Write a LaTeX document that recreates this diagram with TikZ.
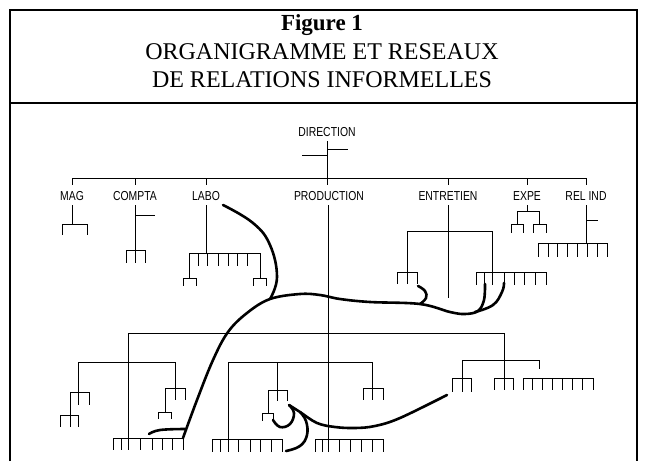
\documentclass[tikz,border=0pt]{standalone}
\usepackage{fontspec}
\setmainfont{Liberation Serif}
\newfontfamily\cond[FakeStretch=0.8]{Liberation Sans}
\newcommand{\orgcomb}[5]{%
  \draw[orgline] (#3,#1) -- (#4,#1);
  \foreach \t in {#5} \draw[orgline] (\t,#1) -- ++(0,#2);
}
\begin{document}
\begin{tikzpicture}[x=1pt,y=-1pt]
\tikzset{
  orgline/.style={line width=0.9pt},
  rel/.style={line width=2.6pt, line cap=round},
  dept/.style={font=\cond\fontsize{13}{13}\selectfont, inner sep=0pt},
}
\useasboundingbox (0,0) rectangle (645,461);
% frame
\draw[line width=1.1pt] (10,461) -- (10,10) -- (637,10) -- (637,461);
\draw[line width=1.4pt] (10,103) -- (637,103);
% title
\node[font=\bfseries\fontsize{23}{23}\selectfont] (fig) at (322,25) {Figure 1};
\node[font=\fontsize{24}{24}\selectfont] (t1) at (322,52) {ORGANIGRAMME ET RESEAUX};
\node[font=\fontsize{24}{24}\selectfont] (t2) at (322,80) {DE RELATIONS INFORMELLES};
% direction
\node[dept] (dir) at (327,132) {DIRECTION};
\draw[orgline] (327,141) -- (327,185);
\draw[orgline] (302,155) -- (327,155);
\draw[orgline] (327,149) -- (348,149);
% main bar
\draw[orgline] (72,178) -- (586,178);
\foreach \x in {72,135,206,448,527,586} \draw[orgline] (\x,178) -- (\x,185);
\node[dept] (mag) at (72,196) {MAG};
\node[dept] (compta) at (135,196) {COMPTA};
\node[dept] (labo) at (206,196) {LABO};
\node[dept] (prod) at (329,196) {PRODUCTION};
\node[dept] (entr) at (448,196) {ENTRETIEN};
\node[dept] (expe) at (527,196) {EXPE};
\node[dept] (relind) at (586,196) {REL IND};
% MAG
\draw[orgline] (72,205) -- (72,224);
\orgcomb{224}{11}{62}{87}{62,87}
% COMPTA
\draw[orgline] (135,205) -- (135,250);
\draw[orgline] (135,215) -- (155,215);
\orgcomb{250}{13}{126}{145}{126,135,145}
% LABO
\draw[orgline] (206,205) -- (206,253);
\orgcomb{253}{13}{189}{260}{189,198,207,218,228,237,247,260}
\draw[orgline] (189,253) -- (189,278);
\draw[orgline] (260,253) -- (260,278);
\orgcomb{278}{8}{183}{196}{183,196}
\orgcomb{278}{8}{253}{266}{253,266}
% PRODUCTION vertical
\draw[orgline] (328,205) -- (328,452);
% ENTRETIEN
\draw[orgline] (448,205) -- (448,298);
\draw[orgline] (407,272) -- (407,231) -- (492,231) -- (492,272);
\orgcomb{272}{12}{397}{417}{397,407,417}
\orgcomb{272}{13}{476}{546}{476,484,492,504,514,524,535,546}
% EXPE
\draw[orgline] (527,205) -- (527,211);
\draw[orgline] (517,224) -- (517,211) -- (539,211) -- (539,224);
\orgcomb{224}{9}{511}{523}{511,523}
\orgcomb{224}{9}{533}{546}{533,546}
% REL IND
\draw[orgline] (586,205) -- (586,243);
\draw[orgline] (586,220) -- (598,220);
\orgcomb{243}{14}{538}{607}{538,548,557,567,577,587,597,607}
% lower section big bar
\draw[orgline] (128,333) -- (504,333);
\draw[orgline] (128,333) -- (128,438);
\draw[orgline] (504,333) -- (504,378);
% left group
\draw[orgline] (78,362) -- (175,362);
\draw[orgline] (78,362) -- (78,392);
\orgcomb{392}{13}{70}{89}{70,78,89}
\draw[orgline] (70,392) -- (70,415);
\orgcomb{415}{12}{60}{78}{60,70,78}
\draw[orgline] (175,362) -- (175,388);
\orgcomb{388}{12}{165}{185}{165,175,185}
\draw[orgline] (165,388) -- (165,412);
\orgcomb{412}{7}{158}{171}{158,171}
% middle group
\draw[orgline] (228,362) -- (372,362);
\draw[orgline] (228,362) -- (228,439);
\draw[orgline] (277,362) -- (277,390);
\orgcomb{390}{11}{268}{287}{268,277,287}
\draw[orgline] (268,390) -- (268,413);
\orgcomb{413}{8}{262}{273}{262,273}
\draw[orgline] (372,362) -- (372,388);
\orgcomb{388}{12}{363}{383}{363,372,383}
% right group
\draw[orgline] (462,360) -- (539,360);
\draw[orgline] (462,360) -- (462,378);
\orgcomb{378}{14}{452}{471}{452,462,471}
\orgcomb{378}{12}{494}{513}{494,504,513}
\draw[orgline] (539,360) -- (539,369);
\orgcomb{378}{12}{523}{593}{523,532,542,552,562,572,582,593}
% bottom combs
\orgcomb{438}{12}{113}{183}{113,121,128,140,152,162,172,183}
\orgcomb{439}{13}{212}{282}{212,220,228,238,250,260,271,282}
\orgcomb{439}{13}{315}{383}{315,322,328,339,350,361,372,383}
% informal relations
\coordinate (r1a) at (223,205);
\coordinate (r1b) at (270,299);
\draw[rel] plot[smooth,tension=0.7] coordinates {(r1a) (253,223) (270,245) (277,277) (r1b)};
\coordinate (r2a) at (183,438);
\coordinate (r2b) at (485,284);
\draw[rel] plot[smooth,tension=0.6] coordinates {(r2a) (197,400) (213,360) (228,332) (247,313) (270,299) (300,294) (320,295) (340,299) (370,302) (420,304) (450,312) (465,314) (478,311) (484,300) (r2b)};
\draw[rel] plot[smooth,tension=0.7] coordinates {(149,434) (160,430) (185,429)};
\draw[rel] plot[smooth,tension=0.7] coordinates {(418,286) (425,291) (426,298) (420,304)};
\draw[rel] plot[smooth,tension=0.7] coordinates {(475,312) (493,305) (502,292) (504,283)};
\draw[rel] plot[smooth,tension=0.7] coordinates {(273,420) (280,427) (290,424) (294,413) (289,405)};
\draw[rel] plot[smooth,tension=0.6] coordinates {(289,405) (300,412) (317,423) (335,427) (355,428) (375,426) (400,418) (447,395)};
\draw[rel] plot[smooth,tension=0.7] coordinates {(300,412) (306,421) (307,435) (300,446) (286,451)};
\end{tikzpicture}
\end{document}
